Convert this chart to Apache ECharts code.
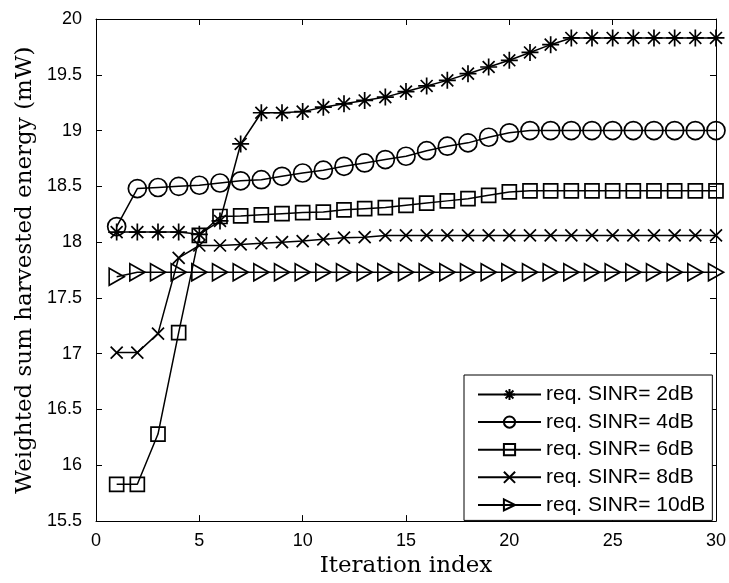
<!DOCTYPE html>
<html>
<head>
<meta charset="utf-8">
<script src="https://cdn.jsdelivr.net/npm/echarts@6/dist/echarts.min.js"></script>
<style>
  html, body { margin: 0; padding: 0; background: #fff; }
  #main { width: 729px; height: 583px; }
</style>
</head>
<body>
<div id="main"></div>
<script>
// Data
var iterations = [];
for (var i = 1; i <= 30; i++) iterations.push(i);

var seriesNames = ['req. SINR= 2dB', 'req. SINR= 4dB', 'req. SINR= 6dB', 'req. SINR= 8dB', 'req. SINR= 10dB'];

var sinr2dB = [18.09, 18.09, 18.09, 18.09, 18.07, 18.19, 18.88, 19.16, 19.16, 19.17,
               19.21, 19.24, 19.27, 19.30, 19.35, 19.40, 19.45, 19.51, 19.57, 19.63,
               19.70, 19.77, 19.83, 19.83, 19.83, 19.83, 19.83, 19.83, 19.83, 19.83];
var sinr4dB = [18.14, 18.48, 18.49, 18.50, 18.51, 18.53, 18.55, 18.56, 18.59, 18.62,
               18.645, 18.68, 18.71, 18.74, 18.77, 18.82, 18.86, 18.89, 18.94, 18.98,
               19.00, 19.00, 19.00, 19.00, 19.00, 19.00, 19.00, 19.00, 19.00, 19.00];
var sinr6dB = [15.83, 15.83, 16.28, 17.19, 18.06, 18.23, 18.235, 18.245, 18.255, 18.265,
               18.27, 18.29, 18.30, 18.31, 18.33, 18.35, 18.37, 18.39, 18.42, 18.45,
               18.46, 18.46, 18.46, 18.46, 18.46, 18.46, 18.46, 18.46, 18.46, 18.46];
var sinr8dB = [17.01, 17.01, 17.18, 17.86, 17.97, 17.97, 17.98, 17.99, 18.00, 18.01,
               18.025, 18.04, 18.045, 18.06, 18.06, 18.06, 18.06, 18.06, 18.06, 18.06,
               18.06, 18.06, 18.06, 18.06, 18.06, 18.06, 18.06, 18.06, 18.06, 18.06];
var sinr10dB = [17.69, 17.73, 17.73, 17.73, 17.73, 17.73, 17.73, 17.73, 17.73, 17.73,
                17.73, 17.73, 17.73, 17.73, 17.73, 17.73, 17.73, 17.73, 17.73, 17.73,
                17.73, 17.73, 17.73, 17.73, 17.73, 17.73, 17.73, 17.73, 17.73, 17.73];

// marker shapes (MATLAB-like)
var markers = [
  'path://M5,0L5,10M0,5L10,5M1.5,1.5L8.5,8.5M1.5,8.5L8.5,1.5',
  'circle',
  'rect',
  'path://M0,0L10,10M0,10L10,0',
  'path://M0,0L10,5L0,10Z'
];
var markerSizes = [17, 18, 14, 12, [15, 17]];
var allData = [sinr2dB, sinr4dB, sinr6dB, sinr8dB, sinr10dB];

var chartDom = document.getElementById('main');
var myChart = echarts.init(chartDom);

var sansFont = 'Liberation Sans, Arial, sans-serif';
var serifFont = 'DejaVu Serif, serif';

var series = allData.map(function (vals, k) {
  return {
    name: seriesNames[k],
    type: 'line',
    data: iterations.map(function (x, j) { return [x, vals[j]]; }),
    symbol: markers[k],
    symbolSize: markerSizes[k],
    showAllSymbol: true,
    lineStyle: { color: '#000', width: 1.5 },
    itemStyle: { color: 'transparent', borderColor: '#000', borderWidth: 1.7 },
    emphasis: { disabled: true },
    animation: false,
    z: 2 + k
  };
});

var axisCommon = {
  axisLine: { show: true, onZero: false, lineStyle: { color: '#000', width: 1 } },
  axisTick: { show: true, inside: true, length: 6, lineStyle: { color: '#000' } },
  splitLine: { show: false }
};

var option = {
  backgroundColor: '#fff',
  animation: false,
  grid: { left: 96, right: 12, top: 19, bottom: 58, containLabel: false },
  legend: {
    orient: 'vertical',
    left: 464,
    top: 375,
    padding: [9, 7, 5, 13],
    itemWidth: 63,
    itemHeight: 14,
    itemGap: 6.6,
    backgroundColor: '#fff',
    borderColor: '#000',
    borderWidth: 1,
    textStyle: { fontFamily: sansFont, fontSize: 21, color: '#000' },
    data: seriesNames
  },
  xAxis: [
    Object.assign({
      type: 'value', min: 0, max: 30, interval: 5, position: 'bottom',
      name: 'Iteration index', nameLocation: 'middle', nameGap: 31,
      nameTextStyle: { fontFamily: serifFont, fontSize: 23, color: '#000' },
      axisLabel: { fontFamily: sansFont, fontSize: 18, color: '#000', margin: 11 }
    }, axisCommon),
    Object.assign({
      type: 'value', min: 0, max: 30, interval: 5, position: 'top',
      axisLabel: { show: false }
    }, axisCommon)
  ],
  yAxis: [
    Object.assign({
      type: 'value', min: 15.5, max: 20, interval: 0.5, position: 'left',
      name: 'Weighted sum harvested energy (mW)', nameLocation: 'middle', nameGap: 54,
      nameTextStyle: { fontFamily: serifFont, fontSize: 23, color: '#000' },
      axisLabel: { fontFamily: sansFont, fontSize: 18, color: '#000', margin: 14 }
    }, axisCommon),
    Object.assign({
      type: 'value', min: 15.5, max: 20, interval: 0.5, position: 'right',
      axisLabel: { show: false }
    }, axisCommon)
  ],
  series: series
};

myChart.setOption(option);
window.addEventListener('resize', function () { myChart.resize(); });
</script>
</body>
</html>
